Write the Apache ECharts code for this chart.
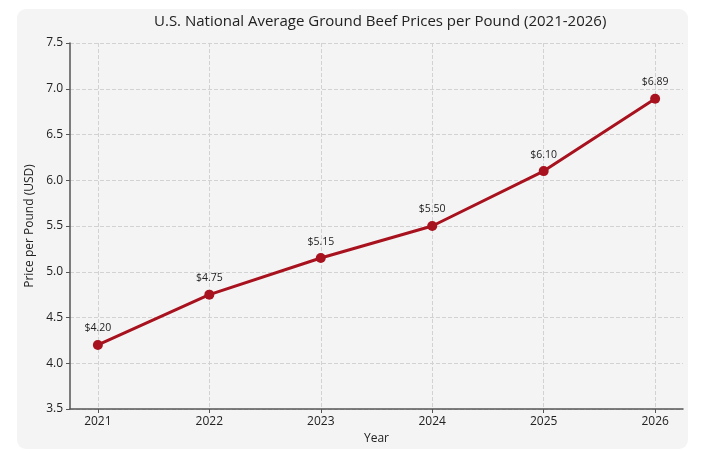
<!DOCTYPE html>
<html><head><meta charset="utf-8">
<script src="https://cdn.jsdelivr.net/npm/echarts@6/dist/echarts.min.js"></script>
<style>html,body{margin:0;padding:0;background:#fff}#c{width:706px;height:459px}</style>
</head><body><div id="c"></div>
<script>
const years = [2021, 2022, 2023, 2024, 2025, 2026];
const prices = [4.20, 4.75, 5.15, 5.50, 6.10, 6.89];
const yTicks = [3.5, 4.0, 4.5, 5.0, 5.5, 6.0, 6.5, 7.0, 7.5];

const FONT = '"Open Sans", "Noto Sans", sans-serif';
const chart = echarts.init(document.getElementById('c'));
chart.setOption({
  backgroundColor: '#ffffff',
  graphic: [{
    type: 'rect', z: -10, silent: true,
    shape: { x: 17, y: 9, width: 671, height: 440, r: 9 },
    style: { fill: '#f4f4f4' }
  }],
  title: {
    text: 'U.S. National Average Ground Beef Prices per Pound (2021-2026)',
    left: 149, top: 9,
    textStyle: { fontFamily: FONT, fontSize: 15, fontWeight: 'normal', color: '#222' }
  },
  grid: { left: 70, right: 23, top: 43, bottom: 50 },
  xAxis: {
    type: 'value', min: 2020.75, max: 2026.25,
    name: 'Year', nameLocation: 'middle', nameGap: 22,
    nameTextStyle: { fontFamily: FONT, fontSize: 12, color: '#222' },
    axisLine: { lineStyle: { color: '#555', width: 1.5 } },
    axisTick: { customValues: years, length: 4, lineStyle: { color: '#555' } },
    axisLabel: { customValues: years, fontFamily: FONT, fontSize: 12, color: '#222', margin: 7,
      formatter: v => String(v) },
    splitLine: { show: true, lineStyle: { color: '#d2d2d2', type: 'dashed', width: 1 } }
  },
  yAxis: {
    type: 'value', min: 3.5, max: 7.5, interval: 0.5,
    name: 'Price per Pound (USD)', nameLocation: 'middle', nameGap: 32,
    nameTextStyle: { fontFamily: FONT, fontSize: 12, color: '#222' },
    axisLine: { show: true, lineStyle: { color: '#555', width: 1.5 } },
    axisTick: { show: true, length: 4, lineStyle: { color: '#555' } },
    axisLabel: { fontFamily: FONT, fontSize: 12, color: '#222', margin: 7,
      formatter: v => v.toFixed(1) },
    splitLine: { show: true, lineStyle: { color: '#d2d2d2', type: 'dashed', width: 1 } }
  },
  series: [{
    type: 'line',
    data: years.map((y, i) => [y, prices[i]]),
    symbol: 'circle', symbolSize: 10,
    lineStyle: { color: '#a8121e', width: 3 },
    itemStyle: { color: '#a8121e' },
    label: { show: true, position: 'top', distance: 6,
      fontFamily: FONT, fontSize: 10.5, color: '#222',
      formatter: p => '$' + p.value[1].toFixed(2) },
    animation: false
  }]
});
</script></body></html>
